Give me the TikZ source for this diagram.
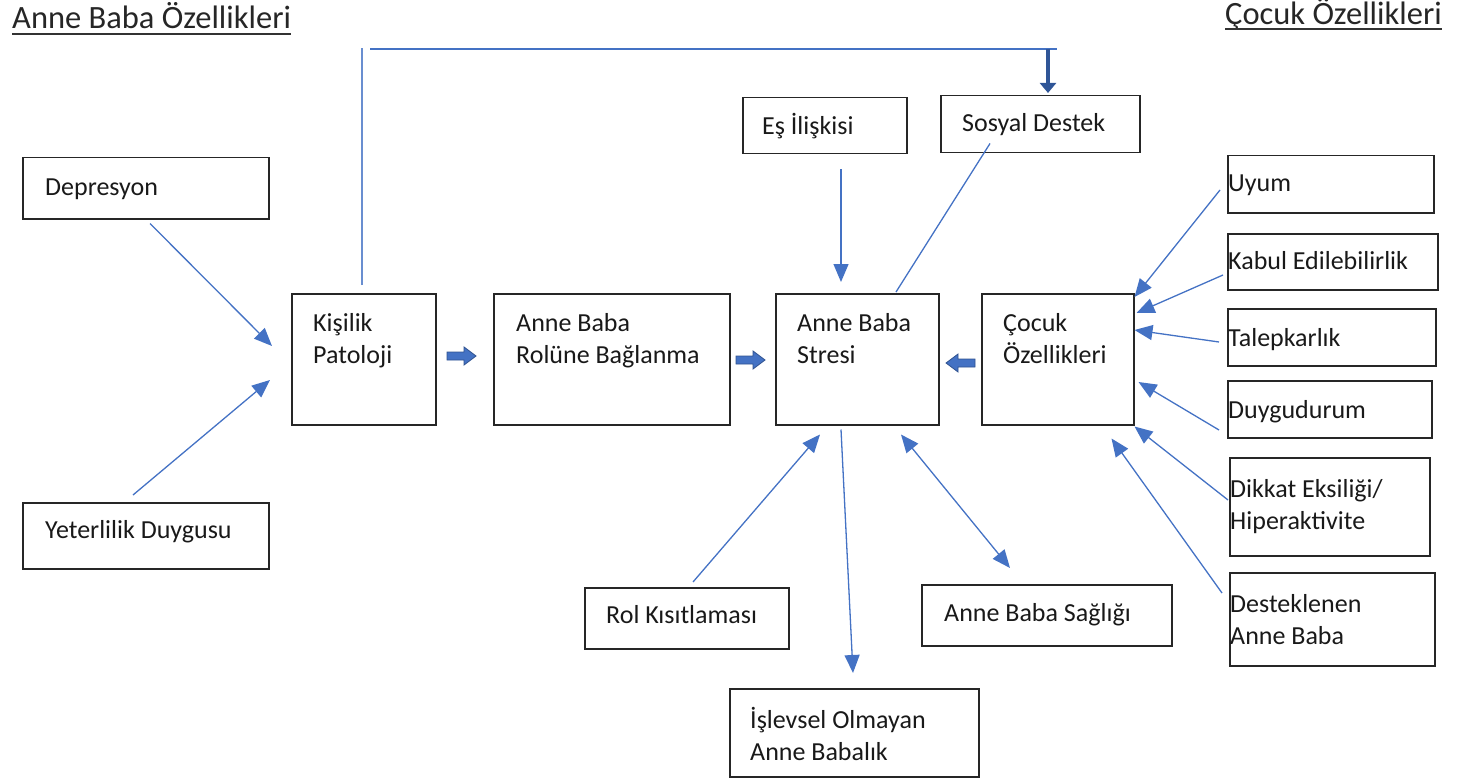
\documentclass[tikz,border=0pt]{standalone}
\usepackage{fontspec}
\setmainfont{Carlito}
\usetikzlibrary{arrows.meta}
\definecolor{lineblue}{HTML}{4472C4}
\definecolor{darkblue}{HTML}{2F5597}
\definecolor{edgeblue}{HTML}{2F528F}
\begin{document}
\begin{tikzpicture}[x=1pt,y=-1pt,
  box/.style={draw=black!85, line width=1.5pt, inner sep=0pt, anchor=north west},
  txt/.style={font=\fontsize{26}{32}\selectfont, inner sep=0pt, anchor=base west, align=left, text=black!90},
  ttl/.style={font=\fontsize{32.5}{39}\selectfont, inner sep=0pt, anchor=base west, text=black!85},
  conn/.style={draw=lineblue, line width=1.3pt, -{Triangle[length=18pt,width=15pt]}},
  dconn/.style={draw=lineblue, line width=1.3pt, {Triangle[length=18pt,width=15pt]}-{Triangle[length=18pt,width=15pt]}},
  plainline/.style={draw=lineblue, line width=1.3pt},
  blockarrow/.style={draw=edgeblue, fill=lineblue, line width=0.8pt, line join=miter}
]
\useasboundingbox (0,0) rectangle (1457,781);

% titles
\node[ttl] (t1) at (12,29) {Anne Baba Özellikleri};
\node[ttl] (t2) at (1225,25) {Çocuk Özellikleri};
\draw[line width=1.5pt, black!80] ([shift={(0,5)}]t1.base west) -- ([shift={(0,5)}]t1.base east);
\draw[line width=1.5pt, black!80] ([shift={(0,4)}]t2.base west) -- ([shift={(0,4)}]t2.base east);

% boxes
\node[box, minimum width=246pt, minimum height=61pt] (dep) at (22,157) {};
\node[box, minimum width=246pt, minimum height=66pt] (yet) at (22,502) {};
\node[box, minimum width=144pt, minimum height=131pt] (kis) at (291,293) {};
\node[box, minimum width=236pt, minimum height=131pt] (rol) at (493,293) {};
\node[box, minimum width=163pt, minimum height=131pt] (str) at (775,293) {};
\node[box, minimum width=152pt, minimum height=131pt] (coc) at (981,293) {};
\node[box, minimum width=164pt, minimum height=56pt] (es) at (742,97) {};
\node[box, minimum width=199pt, minimum height=57pt] (sos) at (940,95) {};
\node[box, minimum width=206pt, minimum height=57pt] (uyum) at (1227,155) {};
\node[box, minimum width=210pt, minimum height=56pt] (kab) at (1227,233) {};
\node[box, minimum width=208pt, minimum height=57pt] (tal) at (1227,308) {};
\node[box, minimum width=204pt, minimum height=57pt] (duy) at (1227,380) {};
\node[box, minimum width=200pt, minimum height=98pt] (dik) at (1229,457) {};
\node[box, minimum width=205pt, minimum height=93pt] (des) at (1229,572) {};
\node[box, minimum width=204pt, minimum height=61pt] (rk) at (584,587) {};
\node[box, minimum width=250pt, minimum height=61pt] (sag) at (921,584) {};
\node[box, minimum width=249pt, minimum height=88pt] (isl) at (729,688) {};

% texts (multi-line nodes: base = last line)
\node[txt] at (45,195) {Depresyon};
\node[txt] at (45,538) {Yeterlilik Duygusu};
\node[txt] at (313,363) {Kişilik\\Patoloji};
\node[txt] at (516,363) {Anne Baba\\Rolüne Bağlanma};
\node[txt] at (797,363) {Anne Baba\\Stresi};
\node[txt] at (1003,363) {Çocuk\\Özellikleri};
\node[txt] at (762,135) {Eş İlişkisi};
\node[txt] at (962,132) {Sosyal Destek};
\node[txt] at (1228,192) {Uyum};
\node[txt] at (1228,269) {Kabul Edilebilirlik};
\node[txt] at (1228,346) {Talepkarlık};
\node[txt] at (1228,418) {Duygudurum};
\node[txt] at (1230,529) {Dikkat Eksiliği/\\Hiperaktivite};
\node[txt] at (1230,644) {Desteklenen\\Anne Baba};
\node[txt] at (606,623) {Rol Kısıtlaması};
\node[txt] at (944,621) {Anne Baba Sağlığı};
\node[txt] at (750,760) {İşlevsel Olmayan\\Anne Babalık};

% block arrows
\begin{scope}[shift={(447,356)}]
  \draw[blockarrow] (0,-4) -- (17,-4) -- (17,-9) -- (29,0) -- (17,9) -- (17,4) -- (0,4) -- cycle;
\end{scope}
\begin{scope}[shift={(736,360)}]
  \draw[blockarrow] (0,-4) -- (17,-4) -- (17,-9) -- (29,0) -- (17,9) -- (17,4) -- (0,4) -- cycle;
\end{scope}
\begin{scope}[shift={(975,363)}, xscale=-1]
  \draw[blockarrow] (0,-4) -- (17,-4) -- (17,-9) -- (29,0) -- (17,9) -- (17,4) -- (0,4) -- cycle;
\end{scope}

% connectors
\draw[conn] ([shift={(128,4)}]dep.south west) -- ([shift={(-19,53)}]kis.north west);
\draw[conn] ([shift={(111,-7)}]yet.north west) -- ([shift={(-21,87)}]kis.north west);
\draw[conn] ([shift={(99,15)}]es.south west) -- ([shift={(66,-11)}]str.north west);
\draw[plainline] ([shift={(50,-10)}]sos.south west) -- ([shift={(121,-1)}]str.north west);
\draw[conn] ([shift={(-7,35)}]uyum.north west) -- ([shift={(0,4)}]coc.north east);
\draw[conn] ([shift={(-4,42)}]kab.north west) -- ([shift={(2,20)}]coc.north east);
\draw[conn] ([shift={(-8,34)}]tal.north west) -- ([shift={(0,37)}]coc.north east);
\draw[conn] ([shift={(-8,50)}]duy.north west) -- ([shift={(4,89)}]coc.north east);
\draw[conn] ([shift={(-1,43)}]dik.north west) -- ([shift={(0,1)}]coc.south east);
\draw[conn] ([shift={(-7,21)}]des.north west) -- ([shift={(-23,13)}]coc.south east);
\draw[conn] ([shift={(109,-5)}]rk.north west) -- ([shift={(45,9)}]str.south west);
\draw[conn] ([shift={(66,4)}]str.south west) -- ([shift={(124,-15)}]isl.north west);
\draw[dconn] ([shift={(126,9)}]str.south west) -- ([shift={(89,-16)}]sag.north west);

% top feedback line
\coordinate (topleft) at (362,48);
\coordinate (hstart) at (370,49);
\coordinate (hend) at (1057,49);
\coordinate (hdrop) at (1048,49);
\draw[draw=lineblue!80, line width=1.2pt] ([shift={(71,-8)}]kis.north west) -- (topleft);
\draw[draw=lineblue, line width=2pt] (hstart) -- (hend);
\draw[draw=darkblue, line width=4.5pt, -{Triangle[length=10pt,width=16pt]}] (hdrop) -- ([shift={(108,-2)}]sos.north west);
\end{tikzpicture}
\end{document}
